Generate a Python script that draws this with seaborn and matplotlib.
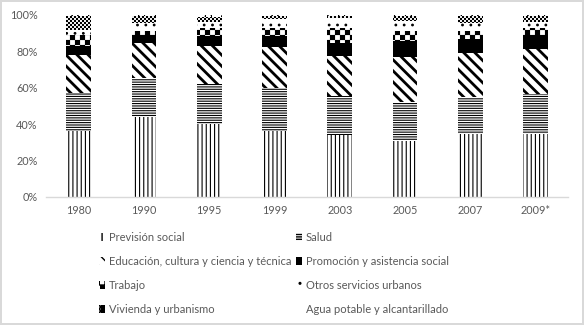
import warnings
import matplotlib
matplotlib.use('Agg')
import numpy as np
import matplotlib.pyplot as plt
import seaborn as sns
from matplotlib import hatch as mhatch
from matplotlib.path import Path
from matplotlib.patches import Patch
from matplotlib.ticker import PercentFormatter

warnings.filterwarnings('ignore')

# ----------------------------------------------------------
# data (percent of total social spending)
# ----------------------------------------------------------
years = ['1980', '1990', '1995', '1999', '2003', '2005', '2007', '2009*']
prevision = [36.0, 43.8, 40.0, 36.4, 34.3, 30.6, 34.6, 34.6]
salud = [21.0, 21.4, 22.1, 23.3, 21.2, 21.8, 20.2, 22.0]
educacion = [21.0, 19.3, 20.9, 22.9, 22.0, 24.7, 24.5, 24.6]
promocion = [5.0, 4.5, 5.5, 5.9, 7.2, 8.8, 7.3, 7.8]
trabajo = [6.0, 2.4, 4.2, 4.2, 8.4, 5.5, 4.8, 3.7]
otros = [3.0, 4.0, 3.6, 4.9, 5.1, 5.5, 4.4, 3.6]
vivienda = [7.3, 4.1, 2.4, 1.9, 1.4, 2.7, 3.6, 3.3]
agua = [0.7, 0.5, 1.3, 0.5, 0.4, 0.4, 0.6, 0.4]

labels = ['Previsión social', 'Salud', 'Educación, cultura y ciencia y técnica',
          'Promoción y asistencia social', 'Trabajo', 'Otros servicios urbanos',
          'Vivienda y urbanismo', 'Agua potable y alcantarillado']
values = [prevision, salud, educacion, promocion, trabajo, otros, vivienda, agua]


# ----------------------------------------------------------
# checkerboard hatch ('#'), like the excel pattern fill
# each '#' adds 10 cells per hatch unit
# ----------------------------------------------------------
class CheckerHatch(mhatch.HatchPatternBase):
    def __init__(self, hatch, density):
        self.n = int(hatch.count('#') * 10)
        self.num_vertices = (self.n * self.n // 2) * 5

    def set_vertices_and_codes(self, vertices, codes):
        s = 1.0 / self.n
        sq = np.array([[0, 0], [s, 0], [s, s], [0, s], [0, 0]])
        sq_codes = [Path.MOVETO, Path.LINETO, Path.LINETO, Path.LINETO, Path.CLOSEPOLY]
        k = 0
        for r in range(self.n):
            for c in range(self.n):
                if (r + c) % 2 == 0:
                    vertices[k:k + 5] = sq + [c * s, r * s]
                    codes[k:k + 5] = sq_codes
                    k += 5


mhatch._hatch_types.append(CheckerHatch)

# ----------------------------------------------------------
# styles
# ----------------------------------------------------------
hatches = ['||||', '-------', '\\\\\\', None, '##', '..', '#####', 'o']
faces = ['white', 'white', 'white', 'black', 'white', 'white', 'white', 'white']
hatch_lws = [0.8, 0.8, 2.0, 0.8, 0.1, 0.8, 0.05, 0.5]
grey = '#595959'

sns.set_theme(style='white')
plt.rcParams['font.family'] = ['Lato', 'DejaVu Sans']

fig = plt.figure(figsize=(5.84, 3.25), dpi=100, edgecolor='#d9d9d9', linewidth=1.5)
ax = fig.add_axes([0.079, 0.394, 0.894, 0.56])

bottom = np.zeros(len(years))
for lab, vals, h, fc, hlw in zip(labels, values, hatches, faces, hatch_lws):
    n0 = len(ax.patches)
    sns.barplot(x=years, y=vals, bottom=bottom, color=fc, saturation=1, edgecolor='black',
                linewidth=0, hatch=h, width=0.38, errorbar=None, ax=ax)
    for p in ax.patches[n0:]:
        if hasattr(p, 'set_hatch_linewidth'):
            p.set_hatch_linewidth(hlw)
    bottom = bottom + np.array(vals)

ax.set_ylim(0, 100)
ax.set_xlim(-0.5, 7.5)
ax.set_yticks(range(0, 101, 20))
ax.yaxis.set_major_formatter(PercentFormatter(decimals=0))
ax.tick_params(length=0, labelsize=7.8, labelcolor=grey, pad=6)
for s in ['top', 'right', 'left']:
    ax.spines[s].set_visible(False)
ax.spines['bottom'].set_color('#d9d9d9')
ax.spines['bottom'].set_linewidth(1)

handles = []
for lab, h, fc, hlw in zip(labels, hatches, faces, hatch_lws):
    ph = Patch(facecolor=fc, edgecolor='black', linewidth=0, hatch=h, label=lab)
    if hasattr(ph, 'set_hatch_linewidth'):
        ph.set_hatch_linewidth(hlw)
    handles.append(ph)
# row-major order for a 2 column legend
order = [0, 2, 4, 6, 1, 3, 5, 7]
leg = fig.legend([handles[i] for i in order], [labels[i] for i in order],
                 loc='upper left', bbox_to_anchor=(0.153, 0.318), ncol=2, frameon=False,
                 fontsize=8.0, handlelength=0.5, handleheight=0.7, handletextpad=0.35,
                 labelspacing=1.17, columnspacing=0.45)
for t in leg.get_texts():
    t.set_color(grey)

plt.savefig('out.png', dpi=100)
